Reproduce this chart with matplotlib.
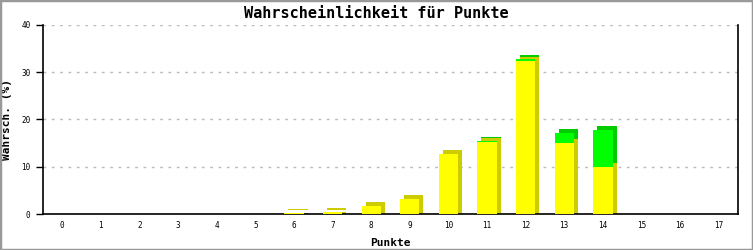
import matplotlib
matplotlib.use('Agg')
import matplotlib.pyplot as plt
import matplotlib.transforms as mtransforms
from matplotlib.patches import Rectangle

# data
punkte = list(range(18))
gelb = [0, 0, 0, 0, 0, 0, 0.15, 0.4, 1.6, 3.2, 12.6, 15.3, 32.4, 15.1, 9.85, 0, 0, 0]
gruen = [0, 0, 0, 0, 0, 0, 0, 0, 0, 0, 0, 0.2, 0.3, 2.1, 8.0, 0, 0, 0]

title = 'Wahrscheinlichkeit für Punkte'
xlabel = 'Punkte'
ylabel = 'Wahrsch. (%)'

mono = 'DejaVu Sans Mono'

fig = plt.figure(figsize=(7.53, 2.5), dpi=100)
ax = fig.add_axes([43 / 753, 1 - 214 / 250, (738 - 43) / 753, (214 - 25) / 250])

width = 0.5
shift = mtransforms.offset_copy(ax.transData, fig=fig, x=4, y=4, units='dots')
side = mtransforms.offset_copy(ax.transData, fig=fig, x=4, y=0, units='dots')

# back (shifted) bars give the side and top faces
ax.bar(punkte, gelb, width=width, color='#cccc00', linewidth=0, transform=side, zorder=2)
ax.bar(punkte, gelb, width=width, color='#cccc00', linewidth=0, transform=shift, zorder=2)
ax.bar(punkte, gruen, width=width, bottom=gelb, color='#00cc00', linewidth=0, transform=shift, zorder=2)
# front faces
ax.bar(punkte, gelb, width=width, color='#ffff00', linewidth=0, zorder=3)
ax.bar(punkte, gruen, width=width, bottom=gelb, color='#00ff00', linewidth=0, zorder=3)

ax.set_xlim(-0.5, 17.5)
ax.set_ylim(0, 40)
ax.set_xticks(punkte)
ax.set_xticklabels([str(p) for p in punkte], family=mono, fontsize=5.5)
ax.set_yticks([0, 10, 20, 30, 40])
ax.set_yticklabels(['0', '10', '20', '30', '40'], family=mono, fontsize=5.5)
ax.tick_params(axis='x', length=0, pad=5)
ax.tick_params(axis='y', length=5, width=1, pad=4, direction='out')

ax.yaxis.grid(True, linestyle=(0, (2, 4)), color='#bbbbbb', linewidth=1)
ax.set_axisbelow(True)
ax.spines['top'].set_visible(False)
for s in ['left', 'bottom', 'right']:
    ax.spines[s].set_linewidth(1.2)
    ax.spines[s].set_color('black')

ax.set_xlabel(xlabel, family=mono, fontsize=8, fontweight='bold', labelpad=6)
ax.set_ylabel(ylabel, family=mono, fontsize=8, fontweight='bold')
ax.yaxis.set_label_coords(-31 / 695, 0.5)
fig.text(0.5, 1 - 13 / 250, title, family=mono, fontsize=11, fontweight='bold',
         ha='center', va='center')

fig.patches.append(Rectangle((0, 0), 1, 1, transform=fig.transFigure, fill=False,
                             edgecolor='#999999', linewidth=2.5))

fig.savefig('out.png', dpi=100)
